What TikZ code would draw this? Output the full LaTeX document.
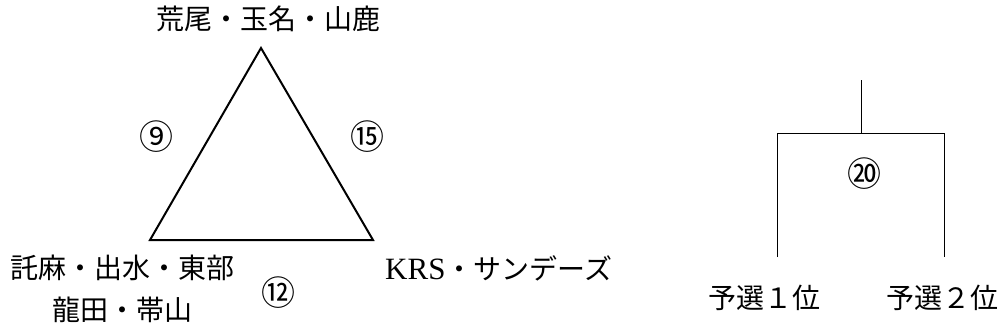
\documentclass[tikz,border=0pt]{standalone}
\usepackage{fontspec}
\newfontfamily\jp{Noto Sans CJK JP}
\newfontfamily\serifjp{Liberation Serif}
\begin{document}
\begin{tikzpicture}[x=1pt,y=-1pt,
  lab/.style={font=\jp\fontsize{28}{28}\selectfont, inner sep=0pt},
  num/.style={font=\jp\fontsize{34}{34}\selectfont, inner sep=0pt},
  tri/.style={line width=2pt, line join=miter},
  br/.style={line width=1pt}]
\useasboundingbox (0,0) rectangle (1003,335);
% triangle
\coordinate (A) at (261,48);
\coordinate (B) at (150,240);
\coordinate (C) at (373,240);
\draw[tri] (A) -- (B) -- (C) -- cycle;
\node[lab] (t1) at (268,19) {荒尾・玉名・山鹿};
\node[lab] (t2) at (122,268) {託麻・出水・東部};
\node[lab] (t3) at (122,310) {龍田・帯山};
\node[lab, anchor=west] (t4) at (385,268) {{\serifjp\fontsize{31}{31}\selectfont KRS}・サンデーズ};
\node[num] (n9) at (156,137) {⑨};
\node[num] (n15) at (367,137) {⑮};
\node[num] (n12) at (278,293) {⑫};
% bracket
\coordinate (top) at (861,80);
\coordinate (mid) at (861,133);
\coordinate (L) at (777,133);
\coordinate (R) at (944,133);
\coordinate (Lb) at (777,257);
\coordinate (Rb) at (944,257);
\draw[br] (top) -- (mid);
\draw[br] (Lb) -- (L) -- (R) -- (Rb);
\node[num] (n20) at (864,174) {⑳};
\node[lab] (p1) at (764,298) {予選１位};
\node[lab] (p2) at (942,298) {予選２位};
\end{tikzpicture}
\end{document}
